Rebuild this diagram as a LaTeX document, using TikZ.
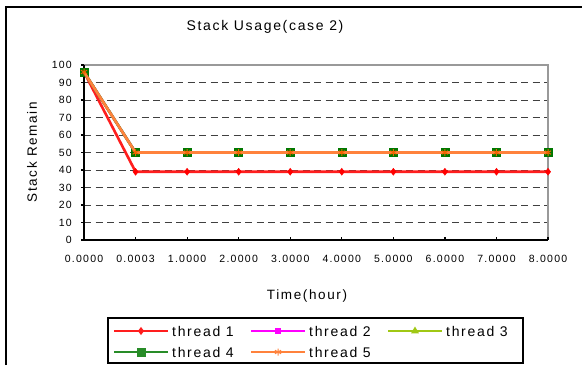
\documentclass[tikz,border=0pt]{standalone}
\usepackage{fontspec}
\setmainfont{Liberation Sans}[LetterSpace=12]
\usetikzlibrary{plotmarks}
\definecolor{tone}{RGB}{255,30,30}
\definecolor{ttwo}{RGB}{255,0,255}
\definecolor{tthree}{RGB}{160,200,20}
\definecolor{tfour}{RGB}{40,140,40}
\definecolor{tfourmark}{RGB}{0,120,0}
\definecolor{tfive}{RGB}{255,130,60}
\definecolor{tfivemark}{RGB}{240,100,0}

\begin{document}
\begin{tikzpicture}[x=1pt,y=-1pt,
  every node/.style={inner sep=0pt},
  gridline/.style={draw=black!75, line width=0.9pt, dash pattern=on 7pt off 4.5pt},
  plotframe/.style={draw=black!40, line width=1.4pt},
  axisline/.style={draw=black, line width=1.2pt},
  series/.style={line width=2.6pt},
  ticklabel/.style={font=\fontsize{10.5}{12}\selectfont},
  axislabel/.style={font=\fontsize{13.5}{16}\selectfont},
  legendtext/.style={anchor=west, font=\fontsize{14}{16}\selectfont}]
\useasboundingbox (0,0) rectangle (582,365);
\fill[white] (0,0) rectangle (582,365);
% chart frame
\draw[line width=1.6pt] (6,365) -- (6,7) -- (582,7);
\node (title) at (265,27) {\fontsize{14}{16}\selectfont Stack Usage(case 2)};

\begin{scope}[shift={(84,240)},x=51.56pt,y=1.75pt]
  % grid and frame
  \foreach \v in {10,20,...,90}
    \draw[gridline] (0,\v) -- (9,\v);
  \draw[plotframe] (0,100) -- (9,100) -- (9,0);
  \draw[axisline] (0,100) -- (0,0) -- (9,0);
  % axis ticks
  \foreach \v in {0,10,...,100}{
    \draw[axisline] (0,\v) -- ++(-3pt,0);
    \node[ticklabel, anchor=east] (ytick\v) at ([xshift=-12pt]0,\v) {\v};
  }
  \foreach \t [count=\i from 0] in {0.0000,0.0003,1.0000,2.0000,3.0000,4.0000,5.0000,6.0000,7.0000,8.0000}{
    \draw[axisline] (\i,0) -- ++(0,3pt);
    \node[ticklabel] (xtick\i) at ([yshift=-19pt]\i,0) {\t};
  }
  % data
  \draw[series, tone] plot[mark=diamond*, mark size=3.5pt, mark options={fill=red, draw=red, line width=0.4pt}]
    coordinates {(0,96) (1,39) (2,39) (3,39) (4,39) (5,39) (6,39) (7,39) (8,39) (9,39)};
  \draw[series, ttwo] plot[mark=square*, mark size=2.5pt, mark options={line width=0.4pt}]
    coordinates {(0,96) (1,50) (2,50) (3,50) (4,50) (5,50) (6,50) (7,50) (8,50) (9,50)};
  \draw[series, tthree] plot[mark=triangle*, mark size=3.5pt, mark options={line width=0.4pt}]
    coordinates {(0,96) (1,50) (2,50) (3,50) (4,50) (5,50) (6,50) (7,50) (8,50) (9,50)};
  \draw[series, tfour] plot[mark=square*, mark size=4pt, mark options={fill=tfourmark, draw=tfourmark, line width=0.4pt}]
    coordinates {(0,96) (1,50) (2,50) (3,50) (4,50) (5,50) (6,50) (7,50) (8,50) (9,50)};
  \draw[series, tfive] plot[mark=asterisk, mark size=3.5pt, mark options={draw=tfivemark, line width=1pt}]
    coordinates {(0,96) (1,50) (2,50) (3,50) (4,50) (5,50) (6,50) (7,50) (8,50) (9,50)};
\end{scope}

\node[axislabel, rotate=90] (ylabel) at (32,152) {Stack Remain};
\node[axislabel] (xlabel) at (307,296) {Time(hour)};

% legend
\draw[line width=1.2pt] (108,318) rectangle (523,363);
\foreach \c/\m/\s/\x/\y/\n in {tone/diamond*/3.2/114/331/1, ttwo/square*/2.5/251/331/2, tthree/triangle*/3.5/388/331/3,
    tfour/square*/4/114/352/4, tfive/asterisk/3.5/251/352/5}{
  \draw[series, \c] (\x,\y) -- ++(54,0);
  \path[\c] plot[mark=\m, mark size=\s pt, mark options={line width=1pt}] coordinates {(\x+27,\y)};
  \node[legendtext] (legend\n) at (\x+58,\y) {thread \n};
}
\end{tikzpicture}
\end{document}
